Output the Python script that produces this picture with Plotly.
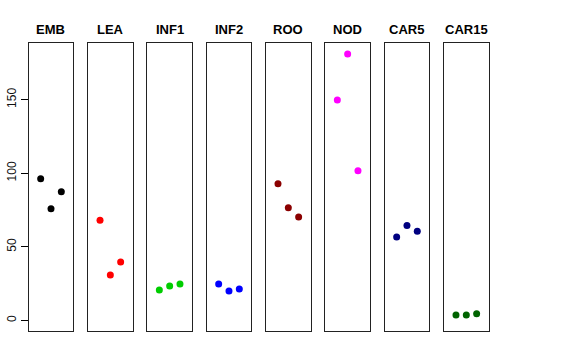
import plotly.graph_objects as go

tissues = ["EMB", "LEA", "INF1", "INF2", "ROO", "NOD", "CAR5", "CAR15"]
colors = ["#000000", "#FF0000", "#00CD00", "#0000FF", "#8B0000", "#FF00FF", "#000080", "#006400"]
replicate = [1, 2, 3]
values = [
    [96.2, 75.8, 87.4],
    [68.1, 30.8, 39.7],
    [20.6, 23.4, 24.7],
    [24.7, 19.9, 21.3],
    [92.8, 76.5, 70.3],
    [149.8, 181.1, 101.7],
    [56.7, 64.4, 60.6],
    [3.6, 3.6, 4.5],
]
y_ticks = [0, 50, 100, 150]

W, H = 576, 360
left0, step, pw = 28.7, 59.33, 44.6
top_px, bot_px = 43.3, 331.0
ymax = max(max(v) for v in values)
ext = 0.04 * ymax
yrange = [0 - ext, ymax + ext]

fig = go.Figure()
layout = dict(
    width=W, height=H, margin=dict(l=0, r=0, t=0, b=0, autoexpand=False),
    paper_bgcolor="white", plot_bgcolor="white", showlegend=False,
    font=dict(family="Liberation Sans, Arial, sans-serif", color="black"),
)
annotations = []
for i, (name, col, vals) in enumerate(zip(tissues, colors, values)):
    k = "" if i == 0 else str(i + 1)
    fig.add_trace(go.Scatter(
        x=replicate, y=vals, mode="markers", xaxis="x" + k, yaxis="y" + k,
        marker=dict(color=col, size=7, line=dict(width=0)), hoverinfo="y",
    ))
    x0 = (left0 + i * step) / W
    x1 = (left0 + i * step + pw) / W
    layout["xaxis" + k] = dict(
        domain=[x0, x1], range=[-0.16, 4.16], anchor="y" + k, automargin=False,
        showgrid=False, zeroline=False, showticklabels=False, ticks="",
        showline=True, mirror=True, linecolor="#222", linewidth=1,
    )
    ya = dict(
        domain=[1 - bot_px / H, 1 - top_px / H], range=yrange, anchor="x" + k,
        automargin=False, showgrid=False, zeroline=False, showline=True, mirror=True,
        linecolor="#222", linewidth=1,
    )
    if i == 0:
        ya.update(tickvals=y_ticks, ticks="outside", ticklen=7, tickcolor="black",
                  tickangle=-90, tickfont=dict(size=12, color="#111"))
    else:
        ya.update(showticklabels=False, ticks="")
    layout["yaxis" + k] = ya
    annotations.append(dict(
        x=(x0 + x1) / 2, y=1 - 29 / H, xref="paper", yref="paper",
        text="<b>" + name + "</b>", showarrow=False,
        font=dict(size=13, color="black"), xanchor="center", yanchor="middle",
    ))
layout["annotations"] = annotations
fig.update_layout(**layout)
fig.write_html("out.html", config={"displayModeBar": False},
               post_script="document.body.style.margin='0px';")
